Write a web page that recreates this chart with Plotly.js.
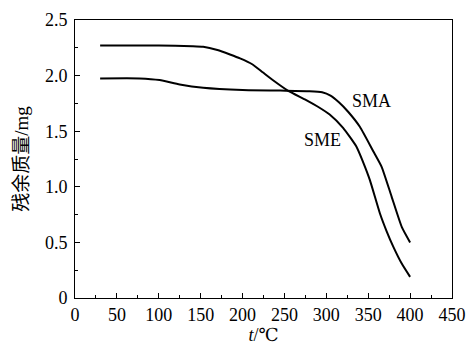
<!DOCTYPE html>
<html>
<head>
<meta charset="utf-8">
<script src="https://cdn.plot.ly/plotly-3.0.1.min.js"></script>
<style>html,body{margin:0;padding:0;background:#fff;}#chart{width:470px;height:346px;}</style>
</head>
<body>
<div id="chart"></div>
<script>
// SME: starts at ~2.27 mg
const smeT = [30, 60, 100, 140, 153, 170, 185, 197, 212, 224, 236, 254, 276, 290, 304, 320, 336, 344, 352, 364, 372, 380, 390, 400];
const smeM = [2.27, 2.27, 2.27, 2.265, 2.26, 2.23, 2.19, 2.155, 2.10, 2.03, 1.96, 1.865, 1.78, 1.72, 1.65, 1.53, 1.36, 1.22, 1.06, 0.76, 0.60, 0.46, 0.31, 0.19];
// SMA: starts at ~1.97 mg
const smaT = [30, 77, 101, 125, 153, 200, 245, 280, 295, 305, 315, 326, 340, 356, 366, 378, 390, 400];
const smaM = [1.975, 1.975, 1.96, 1.92, 1.89, 1.87, 1.865, 1.86, 1.85, 1.82, 1.76, 1.675, 1.54, 1.32, 1.18, 0.91, 0.64, 0.50];

const xTicks = [0, 50, 100, 150, 200, 250, 300, 350, 400, 450];
const yTickVals = [0, 0.5, 1.0, 1.5, 2.0, 2.5];
const yTickText = ['0', '0.5', '1.0', '1.5', '2.0', '2.5'];
const seriesLabels = ['SME', 'SMA'];

const serif = 'Times New Roman, Liberation Serif, DejaVu Serif, serif';
const lineStyle = {color: '#000', width: 2, shape: 'spline', smoothing: 0.5};

const data = [
  {x: smeT, y: smeM, mode: 'lines', name: seriesLabels[0], line: lineStyle, hoverinfo: 'skip'},
  {x: smaT, y: smaM, mode: 'lines', name: seriesLabels[1], line: lineStyle, hoverinfo: 'skip'}
];

const axisCommon = {
  showgrid: false, zeroline: false, showline: true, linecolor: '#000', linewidth: 1,
  mirror: true, ticks: 'inside', ticklen: 5, tickcolor: '#000', tickwidth: 1,
  tickfont: {family: serif, size: 18, color: '#000'}
};

const layout = {
  width: 470, height: 346,
  margin: {l: 75, r: 18, t: 20, b: 48},
  paper_bgcolor: '#fff', plot_bgcolor: '#fff',
  showlegend: false,
  font: {family: serif, color: '#000'},
  xaxis: Object.assign({}, axisCommon, {
    range: [0, 450], tickmode: 'array', tickvals: xTicks, ticktext: xTicks.map(String),
    ticklabelstandoff: 0,
    minor: {dtick: 25, ticks: 'inside', ticklen: 3, tickcolor: '#000', showgrid: false},
    title: {text: '<i>t</i>/℃', font: {family: serif, size: 18, color: '#000'}, standoff: 0}
  }),
  yaxis: Object.assign({}, axisCommon, {
    range: [0, 2.5], tickmode: 'array', tickvals: yTickVals, ticktext: yTickText,
    ticklabelstandoff: 3,
    minor: {dtick: 0.25, ticks: 'inside', ticklen: 3, tickcolor: '#000', showgrid: false},
    title: {text: '残余质量/mg', font: {family: serif + ', Noto Sans CJK SC', size: 19, color: '#000'}, standoff: 11}
  }),
  annotations: [
    {x: 354, y: 1.77, text: seriesLabels[1], showarrow: false, font: {family: serif, size: 18, color: '#000'}},
    {x: 295, y: 1.42, text: seriesLabels[0], showarrow: false, font: {family: serif, size: 18, color: '#000'}}
  ]
};

Plotly.newPlot('chart', data, layout, {staticPlot: true, displayModeBar: false});
</script>
</body>
</html>
